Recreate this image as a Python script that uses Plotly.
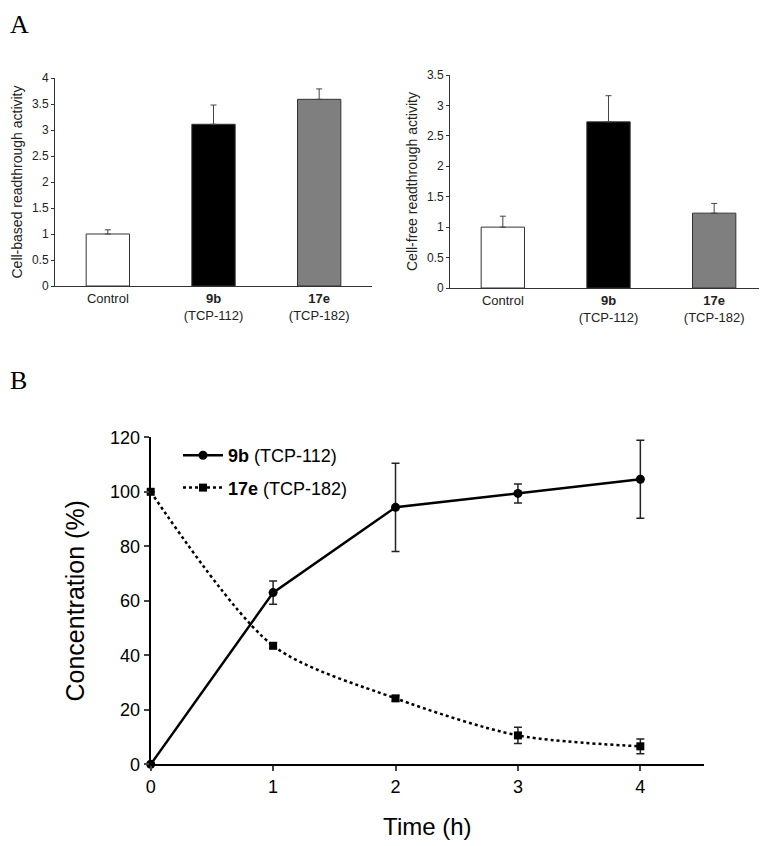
import plotly.graph_objects as go

# page size and the browser's default body margin (figure is drawn at page offset OFF, OFF)
PW, PH = 767, 846
OFF = 8
W, H = PW - OFF, PH - OFF

# ---------- data ----------
bar_categories = ["Control", "9b", "17e"]
bar_ticktext = ["Control", "<b>9b</b><br>(TCP-112)", "<b>17e</b><br>(TCP-182)"]
bar_colors = ["#ffffff", "#000000", "#7f7f7f"]

cell_based = [1.0, 3.11, 3.59]
cell_based_err = [0.08, 0.37, 0.20]

cell_free = [1.0, 2.73, 1.23]
cell_free_err = [0.18, 0.43, 0.16]

time_h = [0, 1, 2, 3, 4]
conc_9b = [0, 63, 94.3, 99.4, 104.6]
conc_9b_err = [0, 4.3, 16.2, 3.5, 14.3]
conc_17e = [100, 43.5, 24.2, 10.6, 6.6]
conc_17e_err = [0, 1.0, 1.0, 3.0, 2.7]

# ---------- helpers (page pixel -> paper fraction) ----------
def px(x):
    return min(1, max(0, (x - OFF) / W))

def py(y):
    return min(1, max(0, 1 - (y - OFF) / H))

def xd(a, b):
    return [px(a), px(b)]

def yd(top, bottom):
    return [py(bottom), py(top)]

FONT = "Liberation Sans, Arial, sans-serif"
SERIF = "Liberation Serif, Times New Roman, serif"

fig = go.Figure()

# Panel A left
fig.add_trace(go.Bar(
    x=bar_categories, y=cell_based, marker=dict(color=bar_colors, line=dict(color="#333333", width=1)),
    error_y=dict(type="data", array=cell_based_err, arrayminus=[0, 0, 0], symmetric=False,
                 color="#444444", thickness=1, width=3),
    xaxis="x", yaxis="y", showlegend=False, width=0.41,
))
# Panel A right
fig.add_trace(go.Bar(
    x=bar_categories, y=cell_free, marker=dict(color=bar_colors, line=dict(color="#333333", width=1)),
    error_y=dict(type="data", array=cell_free_err, arrayminus=[0, 0, 0], symmetric=False,
                 color="#444444", thickness=1, width=3),
    xaxis="x2", yaxis="y2", showlegend=False, width=0.41,
))
# Panel B
fig.add_trace(go.Scatter(
    x=time_h, y=conc_9b, mode="lines+markers", name="<b>9b</b> (TCP-112)",
    line=dict(color="black", width=2.5), marker=dict(symbol="circle", size=9, color="black"),
    error_y=dict(type="data", array=conc_9b_err, color="#222222", thickness=1.5, width=4),
    xaxis="x3", yaxis="y3", cliponaxis=False, legendgroup="a",
))
fig.add_trace(go.Scatter(
    x=time_h, y=conc_17e, mode="lines+markers", name="<b>17e</b> (TCP-182)",
    line=dict(color="black", width=2.5, dash="dot", shape="spline", smoothing=0.8),
    marker=dict(symbol="square", size=8, color="black"),
    error_y=dict(type="data", array=conc_17e_err, color="#222222", thickness=1.5, width=4),
    xaxis="x3", yaxis="y3", cliponaxis=False, legendgroup="b",
))

bar_x_common = dict(
    type="category", tickmode="array", tickvals=bar_categories, ticktext=bar_ticktext,
    showline=True, linecolor="#333333", linewidth=1, ticks="", showgrid=False, zeroline=False,
    tickfont=dict(family=FONT, size=13, color="#222222"), fixedrange=True, automargin=False,
)
bar_y_common = dict(
    showline=True, linecolor="#333333", linewidth=1, ticks="outside", ticklen=3, tickcolor="#333333",
    showgrid=False, zeroline=False, dtick=0.5, tickfont=dict(family=FONT, size=12, color="#222222"),
    automargin=False,
)

fig.update_layout(
    width=W, height=H, margin=dict(l=0, r=0, t=0, b=0, autoexpand=False),
    paper_bgcolor="white", plot_bgcolor="white",
    bargap=0.59,
    xaxis=dict(domain=xd(55, 372), anchor="y", **bar_x_common),
    yaxis=dict(domain=yd(78, 286), anchor="x", range=[0, 4],
               title=dict(text="Cell-based readthrough activity", font=dict(family=FONT, size=14, color="#222222"), standoff=6),
               **bar_y_common),
    xaxis2=dict(domain=xd(450, 767), anchor="y2", **bar_x_common),
    yaxis2=dict(domain=yd(75, 288), anchor="x2", range=[0, 3.5],
                title=dict(text="Cell-free readthrough activity", font=dict(family=FONT, size=14, color="#222222"), standoff=6),
                **bar_y_common),
    xaxis3=dict(domain=xd(150.7, 704), anchor="y3", range=[0, 4.52], dtick=1, automargin=False,
                showline=True, linecolor="black", linewidth=2, ticks="outside", ticklen=5, tickwidth=1.5,
                showgrid=False, zeroline=False, tickfont=dict(family=FONT, size=18, color="black"),
                title=dict(text="Time (h)", font=dict(family=FONT, size=24, color="black"), standoff=22)),
    yaxis3=dict(domain=yd(437.3, 764.3), anchor="x3", range=[0, 120], dtick=20, automargin=False,
                showline=True, linecolor="black", linewidth=2, ticks="outside", ticklen=5, tickwidth=1.5,
                showgrid=False, zeroline=False, tickfont=dict(family=FONT, size=18, color="black"),
                title=dict(text="Concentration (%)", font=dict(family=FONT, size=25, color="black"), standoff=18)),
    legend=dict(x=px(178), y=py(437), xanchor="left", yanchor="top", bgcolor="rgba(0,0,0,0)",
                font=dict(family=FONT, size=18, color="black"), tracegroupgap=6, itemwidth=40),
    annotations=[
        dict(text="A", x=0, y=1, xref="paper", yref="paper", xanchor="left", yanchor="top",
             showarrow=False, font=dict(family=SERIF, size=26, color="black")),
        dict(text="B", x=0, y=py(364), xref="paper", yref="paper", xanchor="left", yanchor="top",
             showarrow=False, font=dict(family=SERIF, size=26, color="black")),
    ],
)

fig.write_html("out.html")
